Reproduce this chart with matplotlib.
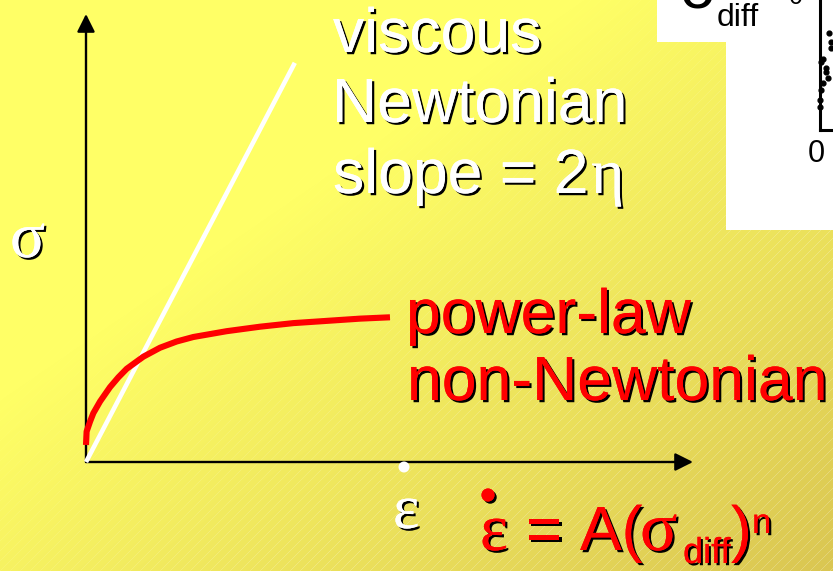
import numpy as np
import matplotlib
matplotlib.use('Agg')
import matplotlib.pyplot as plt
from matplotlib import patheffects as pe
from matplotlib.patches import Circle, Rectangle

# ---- data (normalised strain / stress) ----
newton_strain = [0.0, 0.344]
newton_stress = [0.0, 0.891]
power_strain = [0.0, 0.001, 0.0066, 0.0121, 0.0231, 0.0395, 0.0533, 0.0670, 0.0944, 0.1219,
                0.1494, 0.1768, 0.2318, 0.2867, 0.3416, 0.3965, 0.4514, 0.5008]
power_stress = [0.038, 0.068, 0.090, 0.109, 0.135, 0.167, 0.189, 0.208, 0.235, 0.255,
                0.269, 0.279, 0.292, 0.302, 0.310, 0.315, 0.320, 0.323]

# scanned inset (cropped) data points
inset_u = [0.27, 0.15, 0.72, 0.86, 0.50, 0.64, 0.27, 0.15, 0.05, 0.05, 0.50, 0.86]
inset_v = [0.55, 0.52, 0.75, 0.63, 0.45, 0.40, 0.36, 0.31, 0.23, 0.18, 0.48, 0.68]

W, H = 833, 571
fig = plt.figure(figsize=(W / 100, H / 100), dpi=100)

# ---- background gradient with faint diagonal lines ----
bg = fig.add_axes([0, 0, 1, 1])
bg.axis('off')
yy, xx = np.mgrid[0:H, 0:W]
t = (xx / W + yy / H) / 2
f = np.clip((t - 0.35) / 0.65, 0, 1)
c0 = np.array([255, 255, 102]) / 255
c1 = np.array([218, 198, 82]) / 255
img = c0 * (1 - f[..., None]) + c1 * f[..., None]
hatch = ((xx + yy) % 10 == 0)
a = 0.22 * np.clip((t - 0.3) / 0.4, 0, 1) * hatch
img = img * (1 - a[..., None]) + a[..., None]
bg.imshow(img, extent=(0, W, H, 0), aspect='auto', interpolation='nearest')
bg.set_xlim(0, W)
bg.set_ylim(H, 0)
bg.add_patch(Rectangle((657, 0), 69, 42, facecolor='white', edgecolor='none', zorder=3))
bg.add_patch(Rectangle((726, 0), 107, 230, facecolor='white', edgecolor='none', zorder=3))

# ---- main schematic axes ----
ox, oy, tx, ty = 86, 462, 693, 14
ax = fig.add_axes([ox / W, 1 - oy / H, (tx - ox) / W, (oy - ty) / H])
ax.set_xlim(0, 1)
ax.set_ylim(0, 1)
ax.axis('off')
ax.patch.set_alpha(0)
arrow = dict(arrowstyle='-|>', color='black', lw=1.7, mutation_scale=27, shrinkA=0, shrinkB=0)
ax.annotate('', xy=(0, 1), xytext=(0, 0), xycoords='axes fraction', arrowprops=arrow)
ax.annotate('', xy=(1, 0), xytext=(0, 0), xycoords='axes fraction', arrowprops=arrow)
ax.plot(newton_strain, newton_stress, color='white', lw=3.3, solid_capstyle='butt', clip_on=False, zorder=3)
ax.plot(power_strain, power_stress, color='#ff0000', lw=4.4, solid_capstyle='butt',
        solid_joinstyle='round', clip_on=False, zorder=4)

# ---- inset (cropped scan) ----
ins = fig.add_axes([819 / W, 1 - 130 / H, 14 / W, 130 / H])
ins.set_xlim(0, 1)
ins.set_ylim(0, 1)
ins.axis('off')
ins.patch.set_alpha(0)
ins.plot([0.08, 0.08], [0.0, 1.0], color='black', lw=2.2, clip_on=False)
ins.plot([0.08, 1.0], [0.0, 0.0], color='black', lw=2.2, clip_on=False)
ins.scatter(inset_u, inset_v, s=12, color='black', clip_on=False, zorder=3)

# ---- text overlay in pixel coordinates ----
ov = fig.add_axes([0, 0, 1, 1])
ov.set_xlim(0, W)
ov.set_ylim(H, 0)
ov.axis('off')
ov.patch.set_alpha(0)

SANS = 'Liberation Sans'
SERIF = 'Liberation Serif'
shadow = [pe.withSimplePatchShadow(offset=(1.6, -1.6), shadow_rgbFace='black', alpha=1.0), pe.Normal()]


def txt(x, y, s, color, size=45, family=SANS, sh=True):
    ov.text(x, y, s, color=color, fontsize=size, family=family, va='baseline', ha='left',
            path_effects=shadow if sh else None, zorder=5)


txt(333, 52, 'viscous', 'white')
txt(332, 122, 'Newtonian', 'white')
txt(333, 193, 'slope = 2', 'white')
txt(591, 193, 'η', 'white', family=SERIF, size=46)

txt(406, 333, 'power-law', '#ff0000')
txt(407, 400, 'non-Newtonian', '#ff0000')

txt(10, 257, 'σ', 'white', family=SERIF, size=47)
txt(393, 528, 'ε', 'white', family=SERIF)
ov.add_patch(Circle((404, 467), 5.5, facecolor='white', edgecolor='none', zorder=5))

# strain-rate law
ov.add_patch(Circle((488, 495), 6.5, facecolor='#ff0000', edgecolor='none', zorder=5,
                    path_effects=shadow))
txt(480, 550, 'ε', '#ff0000', family=SERIF, size=48)
txt(526, 550, '=', '#ff0000')
txt(580, 550, 'A(', '#ff0000')
txt(640, 550, 'σ', '#ff0000', family=SERIF, size=50)
txt(683, 563, 'diff', '#ff0000', size=26)
txt(731, 550, ')', '#ff0000')
txt(752, 533, 'n', '#ff0000', size=25)

# inset labels (black, scanned)
txt(679, 8, 'σ', 'black', sh=False)
txt(717, 26, 'diff', 'black', size=23, sh=False)
txt(808, 162, '0', 'black', size=22, sh=False)
txt(789, 4, '0', 'black', size=18, sh=False)

fig.savefig('out.png', dpi=100)
